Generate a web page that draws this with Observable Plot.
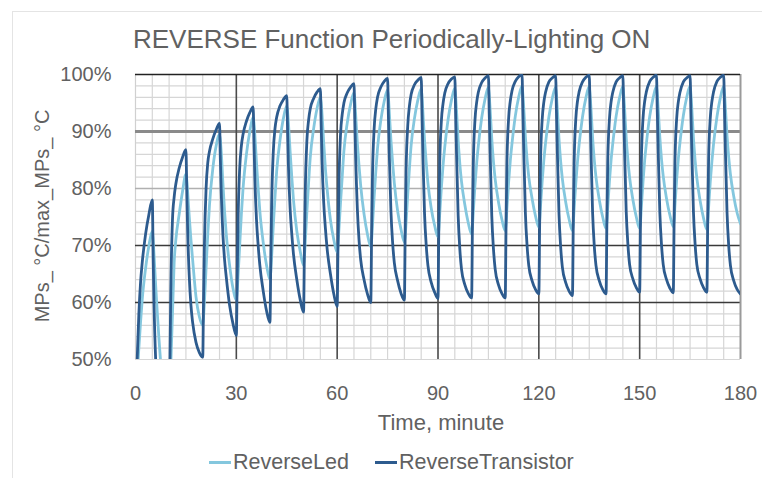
<!DOCTYPE html>
<html>
<head>
<meta charset="utf-8">
<script src="https://cdn.jsdelivr.net/npm/d3@7"></script>
<script src="https://cdn.jsdelivr.net/npm/@observablehq/plot@0.6"></script>
<style>
  body { margin: 0; background: #fff; }
  #wrap { position: relative; width: 762px; height: 478px; overflow: hidden;
          font-family: "Liberation Sans", Arial, sans-serif; color: #616161; }
  #frame { position: absolute; left: 12px; top: 11px; width: 760px; height: 470px;
           border-left: 1px solid #e4e4e4; border-top: 1px solid #e4e4e4; }
  #chart { position: absolute; left: 0; top: 0; }
  .txt { position: absolute; white-space: nowrap; line-height: 1; }
  #title { left: 133px; top: 26px; font-size: 26px; }
  #xlabel { left: 441px; top: 412px; font-size: 22px; transform: translateX(-50%); }
  #ylabel { left: 42px; top: 216px; font-size: 20px; transform: translate(-50%, -50%) rotate(-90deg); }
  #legend { position: absolute; left: 209px; top: 452px; display: flex; align-items: center;
            font-size: 21.5px; line-height: 1; }
  .key { display: flex; align-items: center; }
  .sw { width: 22px; height: 3px; margin-right: 2px; }
</style>
</head>
<body>
<div id="wrap">
  <div id="frame"></div>
  <div id="chart"></div>
  <div class="txt" id="title">REVERSE Function Periodically-Lighting ON</div>
  <div class="txt" id="xlabel">Time, minute</div>
  <div class="txt" id="ylabel">MPs_ °C/max_MPs_ °C</div>
  <div id="legend"></div>
</div>
<script>
// Sampling schedule: each 10-minute cycle starts with the light switched on
// (heating for 5 min) followed by 5 min of cooling.
const cycleStarts = [0, 10, 20, 30, 40, 50, 60, 70, 80, 90, 100, 110, 120, 130, 140, 150, 160, 170];
const cycleOffsets = [0, 0.25, 0.5, 1, 1.5, 2, 3, 4, 5, 5.25, 5.5, 6, 6.5, 7, 8, 9];
const endMinute = 180;

// Normalised temperature, % of max (one row per cycle, one value per offset)
const reverseTransistor = [
  [42, 46, 50, 58, 63.5, 67, 72, 75.5, 78, 68, 60, 50, 45, 42, 39, 38],
  [37.5, 50, 62, 74.5, 78.5, 80.8, 83.6, 85.5, 86.8, 80, 73, 64.5, 59.5, 56.5, 53, 51.2],
  [50.4, 61, 70, 80, 84.5, 86.5, 88.7, 90.3, 91.4, 85, 79.5, 72, 67.5, 64.5, 59.5, 56.3],
  [54.2, 64, 74, 83.5, 87.5, 89.5, 91.8, 93.3, 94.3, 88, 82, 74.5, 70, 66.5, 62, 58.5],
  [56.5, 67, 77, 86.5, 90.5, 92.5, 94.5, 95.6, 96.3, 90, 84, 76.5, 72, 68.5, 64, 60.5],
  [58.3, 69, 79, 88.5, 92, 94, 95.8, 96.9, 97.5, 91, 85, 77.5, 73, 69.5, 65, 61.5],
  [59.3, 70, 80, 89.5, 93, 95, 96.8, 97.8, 98.4, 92, 85.5, 76.5, 71, 67.5, 64, 61.5],
  [60, 72, 82, 90.5, 94, 96, 97.8, 98.8, 99.3, 92.5, 86, 76, 70.5, 67, 63.8, 61.6],
  [60.4, 73, 83, 91, 94.5, 96.5, 98.2, 99, 99.5, 93, 86, 75.5, 70, 66.5, 63.5, 61.8],
  [60.7, 73.5, 84, 91.8, 94.9, 96.7, 98.4, 99.2, 99.6, 93, 86.4, 75.2, 69.3, 65.8, 63.1, 61.6],
  [60.8, 73.7, 84.2, 92, 95.1, 96.9, 98.6, 99.4, 99.8, 93.2, 86.5, 75.2, 69.4, 65.9, 63.1, 61.6],
  [60.8, 73.7, 84.3, 92.2, 95.3, 97.1, 98.8, 99.6, 100, 93.5, 86.9, 75.7, 70, 66.5, 63.8, 62.3],
  [61.5, 74.1, 84.5, 92.1, 95.2, 96.9, 98.7, 99.4, 99.8, 93.2, 86.7, 75.5, 69.7, 66.2, 63.5, 62],
  [61.2, 74, 84.4, 92.2, 95.3, 97, 98.7, 99.5, 99.9, 93.4, 86.8, 75.7, 69.9, 66.5, 63.8, 62.3],
  [61.5, 74.1, 84.5, 92.1, 95.2, 96.9, 98.7, 99.4, 99.8, 93.3, 86.9, 75.9, 70.2, 66.7, 64.1, 62.6],
  [61.8, 74.4, 84.7, 92.3, 95.3, 97, 98.8, 99.5, 99.9, 93.4, 86.9, 75.8, 70.1, 66.7, 64, 62.5],
  [61.7, 74.3, 84.6, 92.2, 95.2, 96.9, 98.7, 99.4, 99.8, 93.3, 86.9, 75.9, 70.2, 66.7, 64.1, 62.6],
  [61.8, 74.4, 84.7, 92.3, 95.3, 97, 98.8, 99.5, 99.9, 93.4, 86.8, 75.7, 69.9, 66.5, 63.8, 62.3]
];
const reverseTransistorEnd = 61.5;

const reverseLed = [
  [42, 44, 47, 52, 56.5, 60.5, 66, 70, 72.5, 71, 68.5, 63, 58, 53.5, 46, 42],
  [40, 44, 49, 58, 67, 71, 75.5, 79.5, 82.5, 81.5, 79.5, 75, 71, 67.5, 61, 57.5],
  [56, 57.5, 60, 66, 72, 77, 83.5, 87.5, 89.5, 88.5, 86.5, 81, 76, 72, 66.5, 62.5],
  [60.5, 62, 64.5, 70, 75.5, 80, 86, 90, 92.5, 91.5, 89.5, 84.5, 80, 76, 70.5, 66.5],
  [64, 65.5, 68, 73.5, 78.5, 83, 88.5, 92.3, 94.5, 93.5, 91.5, 86.5, 82, 78, 72.5, 69],
  [66.5, 68, 70.5, 76, 81, 85.5, 90.5, 94, 96, 95, 93, 88, 83.5, 80, 74.5, 71],
  [68.8, 70, 72.5, 77.5, 82, 86.5, 91.5, 94.8, 96.8, 95.5, 93, 88, 84, 80.5, 75.5, 72],
  [69.8, 71, 73.5, 78.5, 83, 87, 92, 95.3, 97.3, 96, 93.5, 88.5, 84.5, 81, 76, 72.8],
  [70.6, 71.8, 74, 79, 83.5, 87.5, 92.3, 95.5, 97.5, 96, 93.5, 88.5, 84.5, 81, 76.5, 73.5],
  [71.5, 72.8, 75.4, 80.1, 84, 87.2, 92.1, 95.5, 97.6, 96.1, 93.8, 88.4, 84.3, 81.2, 77.1, 74],
  [72, 73.3, 75.9, 80.5, 84.4, 87.5, 92.4, 95.7, 97.8, 96.3, 94, 88.7, 84.7, 81.7, 77.6, 74.6],
  [72.6, 73.9, 76.4, 81, 84.8, 87.8, 92.7, 96, 98, 96.5, 94.3, 89.1, 85.1, 82.1, 78.2, 75.2],
  [73.2, 74.4, 76.9, 81.3, 85, 88, 92.6, 95.8, 97.8, 96.3, 94, 88.7, 84.7, 81.7, 77.6, 74.6],
  [72.6, 73.9, 76.4, 80.9, 84.7, 87.8, 92.6, 95.9, 97.9, 96.4, 94.2, 88.9, 85, 82, 78, 75],
  [73, 74.2, 76.7, 81.2, 85, 87.9, 92.7, 95.9, 97.9, 96.4, 94.2, 88.9, 85, 82, 78, 75],
  [73, 74.2, 76.7, 81.2, 85, 87.9, 92.7, 95.9, 97.9, 96.4, 94.2, 89, 85.1, 82.2, 78.2, 75.3],
  [73.3, 74.5, 77, 81.5, 85.2, 88.1, 92.8, 96, 98, 96.5, 94.2, 88.9, 84.9, 81.9, 77.8, 74.8],
  [72.8, 74.1, 76.6, 81.1, 84.8, 87.9, 92.6, 95.9, 97.9, 96.5, 94.3, 89.2, 85.4, 82.5, 78.6, 75.7]
];
const reverseLedEnd = 73.8;

const seriesNames = ["ReverseLed", "ReverseTransistor"];
const seriesColors = ["#84c7de", "#2d5b8e"];
const xTicks = [0, 30, 60, 90, 120, 150, 180];
const yTicks = [50, 60, 70, 80, 90, 100];

// Long-format table for Plot
function toRows(name, table, endValue) {
  const out = [];
  cycleStarts.forEach((start, k) => {
    cycleOffsets.forEach((off, i) => out.push({series: name, minute: start + off, value: table[k][i]}));
  });
  out.push({series: name, minute: endMinute, value: endValue});
  return out;
}
const rows = [
  ...toRows(seriesNames[0], reverseLed, reverseLedEnd),
  ...toRows(seriesNames[1], reverseTransistor, reverseTransistorEnd)
];

// Gridline positions
const minorX = d3.range(0, 181, 5).filter(d => d % 30 !== 0);
const minorY = d3.range(50, 101, 2).filter(d => d % 10 !== 0);

const chart = Plot.plot({
  width: 762,
  height: 478,
  marginLeft: 135,
  marginRight: 22,
  marginTop: 74,
  marginBottom: 119,
  style: {fontFamily: "'Liberation Sans', Arial, sans-serif", fontSize: "20px", color: "#616161", background: "transparent"},
  x: {domain: [0, 180]},
  y: {domain: [50, 100]},
  color: {domain: seriesNames, range: seriesColors},
  marks: [
    Plot.ruleX(minorX, {stroke: "#d6d6d6", strokeWidth: 1.2}),
    Plot.ruleY(minorY, {stroke: "#d6d6d6", strokeWidth: 1.2}),
    Plot.ruleY([50], {stroke: "#d6d6d6", strokeWidth: 1.2}),
    Plot.ruleX([0], {stroke: "#d0d0d0", strokeWidth: 1.2}),
    Plot.ruleY([80], {stroke: "#b0b0b0", strokeWidth: 1.4}),
    Plot.ruleY([90], {stroke: "#8a8a8a", strokeWidth: 3}),
    Plot.ruleY([60, 70], {stroke: "#3a3a3a", strokeWidth: 1.6}),
    Plot.ruleX([30, 60, 90, 120, 150], {stroke: "#4a4a4a", strokeWidth: 1.6}),
    Plot.ruleX([180], {stroke: "#9a9a9a", strokeWidth: 2}),
    Plot.ruleY([100], {stroke: "#222", strokeWidth: 1.6}),
    Plot.line(rows, {
      x: "minute", y: "value", z: "series", stroke: "series",
      strokeWidth: 2.8, curve: "monotone-x", clip: true
    }),
    Plot.axisY({ticks: yTicks, tickSize: 0, tickPadding: 24, tickFormat: d => d + "%", label: null}),
    Plot.axisX({ticks: xTicks, tickSize: 0, tickPadding: 26, label: null})
  ]
});
document.getElementById("chart").appendChild(chart);

// Legend below the plot
const legend = document.getElementById("legend");
seriesNames.forEach((name, i) => {
  const key = document.createElement("div");
  key.className = "key";
  key.style.marginRight = i === 0 ? "26px" : "0";
  const sw = document.createElement("div");
  sw.className = "sw";
  sw.style.background = seriesColors[i];
  const label = document.createElement("span");
  label.textContent = name;
  key.appendChild(sw);
  key.appendChild(label);
  legend.appendChild(key);
});
</script>
</body>
</html>
